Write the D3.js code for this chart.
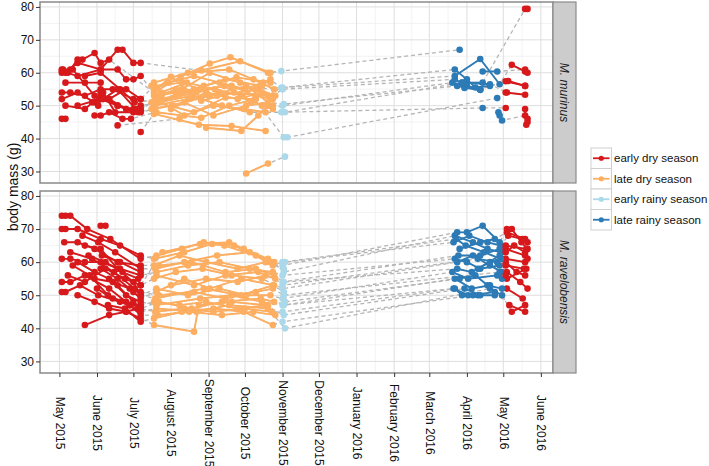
<!DOCTYPE html>
<html><head><meta charset="utf-8">
<script src="https://cdn.jsdelivr.net/npm/d3@7"></script>
<style>body{margin:0;background:#fff}svg{display:block;font-family:"Liberation Sans",Arial,Helvetica,sans-serif}</style>
</head><body><svg id="chart" width="709" height="466"></svg>
<script>
const seasonNames=["early dry season","late dry season","early rainy season","late rainy season"];
const seasonColors=["#d7191c","#fdae61","#abd9e9","#2c7bb6"];
const seasonBreaks=["2015-07-12","2015-10-28","2016-01-01","2016-05-02"];
const seasonAfterBreak=[1,2,3,0];
const speciesNames=["M. murinus","M. ravelobensis"];
const yTicks=[30,40,50,60,70,80];
const xDomain=["2015-04-15","2016-06-11"];
const yDomain=[26.5,81.5];

const murinusTracks=[
 [["2015-05-03",61],["2015-05-10",61],["2015-05-16",64],["2015-05-20",64],["2015-05-30",66],["2015-06-04",63],["2015-06-11",64],["2015-07-18",54],["2015-08-09",58.8],["2015-09-02",62.8],["2015-09-19",64.7],["2015-10-20",60],["2015-10-31",60.5],["2016-03-26",67]],
 [["2015-05-03",60],["2015-05-06",60],["2015-05-16",63],["2015-06-04",61],["2015-06-18",67],["2015-06-22",67],["2015-07-01",63],["2015-07-07",63],["2015-08-26",60.7],["2015-09-27",63.5],["2015-10-22",60]],
 [["2015-05-06",57],["2015-05-22",57],["2015-06-04",57]],
 [["2015-05-03",60.5],["2015-05-16",59],["2015-06-04",61],["2015-06-18",61],["2015-06-25",58],["2015-07-01",58],["2015-07-07",59],["2015-07-20",53],["2015-08-20",55],["2015-09-15",58],["2015-10-15",56]],
 [["2015-05-03",54],["2015-05-10",54],["2015-05-22",53],["2015-06-04",55],["2015-06-14",55],["2015-07-01",52],["2015-07-07",52],["2015-07-18",50],["2015-08-15",52],["2015-09-10",54],["2015-10-24",53],["2015-11-01",55],["2016-03-22",58],["2016-04-01",56],["2016-04-12",55],["2016-05-05",57.5],["2016-05-19",56]],
 [["2015-05-03",52],["2015-05-16",54],["2015-05-30",51],["2015-06-11",52],["2015-06-25",49],["2015-07-07",48],["2015-07-18",49],["2015-08-12",51],["2015-09-05",47],["2015-10-02",50],["2015-10-20",51],["2015-11-02",50.5],["2016-03-24",56],["2016-04-12",54.8]],
 [["2015-05-06",50],["2015-05-22",49],["2015-06-04",53],["2015-06-18",50],["2015-07-01",48],["2015-07-07",48.5],["2015-07-19",52],["2015-08-05",55]],
 [["2015-05-03",46],["2015-05-06",46]],
 [["2015-05-30",47],["2015-06-04",47],["2015-06-11",48],["2015-06-22",46],["2015-06-29",46],["2015-07-20",48],["2015-08-26",46.3],["2015-09-18",50],["2015-10-10",52]],
 [["2015-06-18",44],["2015-08-08",46]],
 [["2015-07-07",42],["2015-07-18",47.5],["2015-08-24",44.2],["2015-09-20",43.8],["2015-10-18",42.3]],
 [["2015-05-16",50],["2015-06-04",52],["2015-06-18",50],["2015-07-01",49],["2015-07-07",50],["2015-07-22",51],["2015-08-18",53],["2015-09-12",50],["2015-10-05",48],["2015-11-03",48],["2016-03-28",57],["2016-04-20",56.5],["2016-05-04",54]],
 [["2015-06-04",54],["2015-06-11",52],["2015-06-25",55],["2015-07-07",52],["2015-07-18",56],["2015-08-10",57],["2015-09-08",53],["2015-10-12",55],["2015-10-26",53]],
 [["2015-05-22",59],["2015-06-04",60],["2015-06-20",55],["2015-07-02",51],["2015-07-25",52],["2015-08-28",56],["2015-09-24",58.6],["2015-10-22",57]],
 [["2015-07-20",55],["2015-08-01",58.8],["2015-08-26",51.5],["2015-09-22",54],["2015-10-15",50],["2015-10-24",49],["2015-11-01",50],["2016-03-20",57],["2016-03-30",55.4],["2016-04-12",54.8]],
 [["2015-08-30",43.3],["2015-09-28",42.3],["2015-10-12",47],["2015-10-20",50]],
 [["2015-10-02",29.4],["2015-10-20",32.4],["2015-11-03",34.5]],
 [["2015-07-18",53],["2015-08-10",55],["2015-09-02",60],["2015-09-27",57],["2015-10-20",53],["2015-10-31",55.5],["2016-03-22",61],["2016-04-01",58],["2016-04-08",55.5],["2016-04-20",56],["2016-05-03",57.4],["2016-05-19",56]],
 [["2015-07-20",51],["2015-08-20",48],["2015-09-15",52.5],["2015-10-09",52],["2015-11-02",40.4],["2015-11-05",40.4],["2016-04-26",52.3]],
 [["2015-10-31",48],["2016-04-14",49.3],["2016-05-03",49.3]],
 [["2015-10-10",55],["2015-11-01",55.5],["2016-03-22",59],["2016-04-12",64.2],["2016-04-28",56.5],["2016-05-08",62.4],["2016-05-19",60.4]],
 [["2016-03-28",57],["2016-04-14",57],["2016-05-19",79.4],["2016-05-21",79.4]],
 [["2016-04-14",60.4],["2016-04-26",60.4],["2016-05-19",61],["2016-05-21",60]],
 [["2016-04-27",48],["2016-04-28",47],["2016-04-30",45.5],["2016-05-19",47],["2016-05-21",46]],
 [["2016-05-03",54],["2016-05-19",53.3]],
 [["2016-05-19",49],["2016-05-20",44.2],["2016-05-21",45]],
 [["2015-07-18",55],["2015-07-30",57],["2015-08-20",59],["2015-09-10",57],["2015-10-01",55],["2015-10-22",58],["2015-11-01",55]],
 [["2015-07-19",50],["2015-08-05",53],["2015-08-25",55],["2015-09-20",56],["2015-10-10",53],["2015-10-24",52]],
 [["2015-07-20",52],["2015-08-12",47],["2015-09-05",50],["2015-09-30",49],["2015-10-18",48]],
 [["2015-07-18",57],["2015-08-15",60],["2015-09-18",61],["2015-10-08",58],["2015-10-25",55]],
 [["2015-08-01",49],["2015-08-30",54],["2015-09-25",52],["2015-10-15",54]],
 [["2015-05-04",61],["2015-05-08",60],["2015-05-12",61],["2015-05-30",53],["2015-06-06",52],["2015-06-18",55],["2015-07-03",49],["2015-07-07",49],["2015-07-16",51],["2015-08-22",54],["2015-09-14",56],["2015-10-06",51]],
 [["2015-05-28",51],["2015-06-02",50],["2015-06-06",54],["2015-06-16",48],["2015-07-05",48],["2015-07-16",49],["2015-08-02",50],["2015-09-02",53],["2015-10-02",56],["2015-10-24",50]],
 [["2015-07-16",56],["2015-07-24",54],["2015-08-14",57],["2015-09-06",55],["2015-09-29",53],["2015-10-16",57]]
];

const ravelobensisTracks=[
 [["2015-05-03",74],["2015-05-06",74],["2015-05-10",74],["2015-05-24",70],["2015-06-12",67],["2015-07-07",61],["2015-07-20",62],["2015-08-10",64],["2015-08-28",66],["2015-09-22",65],["2015-10-22",60],["2015-11-01",59],["2016-03-24",69],["2016-04-01",69],["2016-04-14",71],["2016-04-28",66],["2016-05-04",70],["2016-05-08",70],["2016-05-16",66],["2016-05-21",64]],
 [["2015-05-03",70],["2015-05-06",70],["2015-05-16",70],["2015-06-04",67],["2015-06-20",65],["2015-07-07",62],["2015-07-18",61],["2015-08-12",63],["2015-09-04",65.5],["2015-09-14",65],["2015-10-10",62],["2015-10-25",60],["2015-11-02",57],["2016-03-22",68],["2016-04-06",66],["2016-04-18",64],["2016-04-29",63],["2016-05-03",63],["2016-05-10",65],["2016-05-19",63]],
 [["2015-05-03",61],["2015-05-10",61],["2015-05-22",60],["2015-06-04",60],["2015-06-20",58],["2015-07-07",56],["2015-07-20",57],["2015-08-15",59],["2015-09-10",60],["2015-10-05",58],["2015-10-24",57],["2015-11-01",56],["2016-03-22",61],["2016-04-01",60],["2016-04-12",58],["2016-04-28",59],["2016-05-03",60],["2016-05-12",57],["2016-05-19",56]],
 [["2015-05-05",66],["2015-05-16",66],["2015-05-30",64],["2015-06-18",60],["2015-07-07",59],["2015-07-22",59],["2015-08-18",60],["2015-09-15",57],["2015-10-10",58],["2015-10-25",56],["2015-11-02",54],["2016-03-24",58],["2016-04-05",57],["2016-04-20",60],["2016-04-30",61],["2016-05-03",61],["2016-05-19",60]],
 [["2015-05-03",54],["2015-05-10",54],["2015-05-22",56],["2015-06-11",52],["2015-06-25",48],["2015-07-07",46],["2015-07-19",45],["2015-08-12",46],["2015-09-05",45],["2015-10-01",46],["2015-10-23",45],["2015-11-01",45],["2016-03-22",52],["2016-03-28",50],["2016-04-10",50],["2016-04-24",50],["2016-05-04",52],["2016-05-17",49]],
 [["2015-05-03",51],["2015-05-06",51],["2015-05-18",53],["2015-06-02",50],["2015-06-20",48],["2015-07-07",47],["2015-07-18",48],["2015-08-08",47],["2015-08-30",48],["2015-09-25",46],["2015-10-20",47],["2015-11-03",48],["2016-03-26",55],["2016-04-08",56],["2016-04-18",53],["2016-04-30",52]],
 [["2015-05-16",50],["2015-05-30",48],["2015-06-11",46],["2015-06-25",45],["2015-07-07",43],["2015-07-18",41],["2015-08-20",39],["2015-08-24",47],["2015-09-20",48],["2015-10-18",47],["2015-11-02",44],["2016-03-30",52],["2016-04-12",50]],
 [["2015-05-22",41],["2015-06-11",44],["2015-06-25",45],["2015-07-05",46]],
 [["2015-06-04",71],["2015-06-08",71]],
 [["2015-05-08",56],["2015-05-22",54],["2015-06-08",58],["2015-06-24",55],["2015-07-07",53],["2015-07-18",55],["2015-08-05",57],["2015-08-27",58],["2015-09-20",56],["2015-10-15",55],["2015-11-01",52],["2016-03-24",60],["2016-04-06",62],["2016-04-20",59],["2016-04-30",57],["2016-05-04",57],["2016-05-15",54],["2016-05-21",52]],
 [["2015-05-22",65],["2015-06-04",64],["2015-06-18",58],["2015-07-01",54],["2015-07-07",50],["2015-07-20",52],["2015-08-15",50],["2015-09-10",52],["2015-10-02",50],["2015-10-22",50],["2015-11-01",49],["2016-03-20",57],["2016-04-02",55],["2016-04-26",56],["2016-05-04",55],["2016-05-20",58]],
 [["2015-05-16",60],["2015-05-30",57],["2015-06-11",55],["2015-06-25",50],["2015-07-07",48],["2015-07-20",47],["2015-08-25",49],["2015-09-20",50],["2015-10-15",48],["2015-11-02",47],["2016-03-22",55],["2016-04-05",52],["2016-04-20",53]],
 [["2015-05-25",62],["2015-06-08",60],["2015-06-22",57],["2015-07-05",55],["2015-07-07",53],["2015-07-25",63],["2015-08-25",65.5],["2015-09-18",66],["2015-09-30",64],["2015-10-20",61],["2015-11-03",60],["2016-03-21",66],["2016-04-03",68],["2016-04-18",66],["2016-04-29",65],["2016-05-05",68],["2016-05-17",67],["2016-05-21",66]],
 [["2015-06-01",52],["2015-06-14",49],["2015-06-28",47],["2015-07-07",44],["2015-07-21",44],["2015-08-16",45],["2015-09-12",44],["2015-10-08",45],["2015-10-26",44]],
 [["2015-06-04",58],["2015-06-18",55],["2015-07-01",51],["2015-07-07",49],["2015-08-01",53],["2015-08-30",55],["2015-09-25",54],["2015-10-18",56],["2015-11-01",54],["2016-03-25",62],["2016-04-12",62],["2016-04-28",64],["2016-05-03",64],["2016-05-19",62],["2016-05-21",61]],
 [["2015-05-30",55],["2015-06-14",54],["2015-06-28",52],["2015-07-07",51],["2015-07-22",50],["2015-08-20",51],["2015-09-15",49],["2015-10-10",51],["2015-10-24",52],["2015-11-02",50],["2016-04-28",57],["2016-04-30",55],["2016-05-03",56]],
 [["2015-06-10",47],["2015-06-24",46],["2015-07-07",42],["2015-07-18",43],["2015-08-10",45],["2015-09-05",46],["2015-09-30",45],["2015-10-24",41],["2015-11-01",42],["2016-04-06",50],["2016-04-24",51],["2016-05-06",47],["2016-05-19",45]],
 [["2015-05-20",68],["2015-06-02",66],["2015-06-16",63],["2015-07-07",58],["2015-07-19",58],["2015-08-12",60],["2015-09-08",62],["2015-10-05",63],["2015-10-24",59],["2015-11-01",60],["2016-03-23",67],["2016-03-31",65],["2016-04-15",63],["2016-04-29",61]],
 [["2015-05-12",59],["2015-05-26",56],["2015-06-10",50],["2015-06-28",47],["2015-07-07",45],["2015-07-20",46],["2015-08-22",45],["2015-09-18",47],["2015-10-20",46],["2015-11-03",40],["2016-04-20",52],["2016-04-30",50],["2016-05-08",45],["2016-05-19",47]],
 [["2015-06-05",62],["2015-06-20",60],["2015-07-07",57],["2015-07-20",56],["2015-08-20",53],["2015-09-15",56],["2015-10-12",57],["2015-10-26",55],["2015-11-01",53],["2016-04-10",61],["2016-04-26",60],["2016-05-03",59],["2016-05-18",58]],
 [["2015-05-10",63],["2015-05-28",61],["2015-06-15",57],["2015-07-02",52],["2015-07-07",50],["2015-07-19",49],["2015-08-28",52],["2015-09-28",50],["2015-10-24",53],["2015-11-02",51]],
 [["2015-06-18",53],["2015-07-01",48],["2015-07-07",46],["2015-07-22",48],["2015-08-18",46],["2015-09-12",48],["2015-10-14",49],["2015-10-25",48],["2015-11-01",47],["2016-03-21",52],["2016-04-02",50]],
 [["2015-07-18",59],["2015-08-08",62],["2015-08-30",60],["2015-09-25",58],["2015-10-18",60],["2015-11-02",58]],
 [["2015-07-20",51],["2015-08-12",55],["2015-09-02",52],["2015-09-28",55],["2015-10-25",53]],
 [["2016-03-26",64],["2016-04-12",66],["2016-04-24",67],["2016-05-04",69],["2016-05-19",67]],
 [["2016-04-10",58],["2016-04-28",62],["2016-05-03",65],["2016-05-20",64]]
];

const parse=d3.utcParse("%Y-%m-%d");
const breaks=seasonBreaks.map(parse);
function seasonOf(d){let s=0;breaks.forEach((b,i)=>{if(d>=b)s=seasonAfterBreak[i];});return s;}

const svg=d3.select("#chart");
const L=40,R=553,stripW=23;
const panels=[{top:2,bottom:183,tracks:murinusTracks,name:speciesNames[0]},
              {top:191,bottom:373,tracks:ravelobensisTracks,name:speciesNames[1]}];
const x=d3.scaleUtc().domain(xDomain.map(parse)).range([L,R]);
const months=d3.utcMonth.range(parse("2015-05-01"),parse("2016-06-02"));
const minorX=[];
for(let i=0;i<months.length-1;i++){minorX.push(new Date((+months[i]+ +months[i+1])/2));}
minorX.unshift(new Date(+months[0]-(+months[1]-+months[0])/2));
const minorY=[35,45,55,65,75];
const fmt=d3.utcFormat("%B %Y");
const FS=12;

panels.forEach((p,pi)=>{
  const y=d3.scaleLinear().domain(yDomain).range([p.bottom,p.top]);
  const g=svg.append("g");
  const cid="clip"+pi;
  svg.append("clipPath").attr("id",cid).append("rect").attr("x",L).attr("y",p.top).attr("width",R-L).attr("height",p.bottom-p.top);
  g.append("rect").attr("x",L).attr("y",p.top).attr("width",R-L).attr("height",p.bottom-p.top).attr("fill","#fff");
  g.selectAll(".mx").data(minorX.filter(d=>x(d)>L&&x(d)<R)).join("line").attr("x1",d=>x(d)).attr("x2",d=>x(d)).attr("y1",p.top).attr("y2",p.bottom).attr("stroke","#f0f0f0").attr("stroke-width",0.8);
  g.selectAll(".my").data(minorY).join("line").attr("x1",L).attr("x2",R).attr("y1",d=>y(d)).attr("y2",d=>y(d)).attr("stroke","#f0f0f0").attr("stroke-width",0.8);
  g.selectAll(".gx").data(months).join("line").attr("x1",d=>x(d)).attr("x2",d=>x(d)).attr("y1",p.top).attr("y2",p.bottom).attr("stroke","#dedede").attr("stroke-width",1);
  g.selectAll(".gy").data(yTicks).join("line").attr("x1",L).attr("x2",R).attr("y1",d=>y(d)).attr("y2",d=>y(d)).attr("stroke","#dedede").attr("stroke-width",1);

  const data=p.tracks.map(t=>t.map(([d,v])=>{const dt=parse(d);return {date:dt,v:v,s:seasonOf(dt)};}));
  const line=d3.line().x(d=>x(d.date)).y(d=>y(d.v));
  const clipped=g.append("g").attr("clip-path",`url(#${cid})`);
  clipped.selectAll(".dash").data(data).join("path").attr("d",line).attr("fill","none").attr("stroke","#b5b5b5").attr("stroke-width",1.3).attr("stroke-dasharray","4,3");
  const runs=[];
  data.forEach(t=>{let cur=[t[0]];for(let i=1;i<t.length;i++){if(t[i].s===cur[0].s)cur.push(t[i]);else{runs.push(cur);cur=[t[i]];}}runs.push(cur);});
  clipped.selectAll(".run").data(runs.filter(r=>r.length>1)).join("path").attr("d",line).attr("fill","none").attr("stroke",r=>seasonColors[r[0].s]).attr("stroke-width",1.9);
  clipped.selectAll(".pt").data(data.flat()).join("circle").attr("cx",d=>x(d.date)).attr("cy",d=>y(d.v)).attr("r",3.3).attr("fill",d=>seasonColors[d.s]);

  g.append("rect").attr("x",L).attr("y",p.top).attr("width",R-L).attr("height",p.bottom-p.top).attr("fill","none").attr("stroke","#8a8a8a").attr("stroke-width",1.5);
  g.append("rect").attr("x",R).attr("y",p.top).attr("width",stripW).attr("height",p.bottom-p.top).attr("fill","#cccccc").attr("stroke","#8a8a8a").attr("stroke-width",1.2);
  g.append("text").attr("transform",`translate(${R+stripW/2},${(p.top+p.bottom)/2}) rotate(90)`).attr("text-anchor","middle").attr("dy","0.35em").attr("font-style","italic").attr("font-size",FS).attr("fill","#1a1a1a").text(p.name);
  const ya=g.append("g").attr("transform",`translate(${L},0)`).call(d3.axisLeft(y).tickValues(yTicks).tickSize(4).tickPadding(2));
  ya.select(".domain").remove();
  ya.selectAll("line").attr("stroke","#333");
  ya.selectAll("text").attr("font-size",FS).attr("fill","#111").attr("font-family","Liberation Sans, Arial, sans-serif");
});

const xa=svg.append("g").attr("transform",`translate(0,373)`).call(d3.axisBottom(x).tickValues(months).tickSize(4).tickFormat(fmt));
xa.select(".domain").remove();
xa.selectAll("line").attr("stroke","#333");
xa.selectAll("text").attr("font-size",FS).attr("fill","#111").attr("font-family","Liberation Sans, Arial, sans-serif")
  .attr("transform","translate(0,50) rotate(90)").attr("x",0).attr("y",0).attr("dy","0.35em").attr("text-anchor","middle");

svg.append("text").attr("transform","translate(13,187) rotate(-90)").attr("text-anchor","middle").attr("dy","0.35em").attr("font-size",14).attr("fill","#111").text("body mass (g)");

const lg=svg.append("g");
const ky=148, kh=20.5, kx=591, kw=20.5;
seasonNames.forEach((n,i)=>{
  const yy=ky+i*kh;
  lg.append("rect").attr("x",kx).attr("y",yy).attr("width",kw).attr("height",kh).attr("fill","#fff").attr("stroke","#cfcfcf").attr("stroke-width",1);
  lg.append("line").attr("x1",kx+2).attr("x2",kx+kw-2).attr("y1",yy+kh/2).attr("y2",yy+kh/2).attr("stroke",seasonColors[i]).attr("stroke-width",1.8);
  lg.append("circle").attr("cx",kx+kw/2).attr("cy",yy+kh/2).attr("r",2.6).attr("fill",seasonColors[i]);
  lg.append("text").attr("x",kx+kw+2.5).attr("y",yy+kh/2).attr("dy","0.35em").attr("font-size",11.5).attr("fill","#111").text(n);
});
</script></body></html>
